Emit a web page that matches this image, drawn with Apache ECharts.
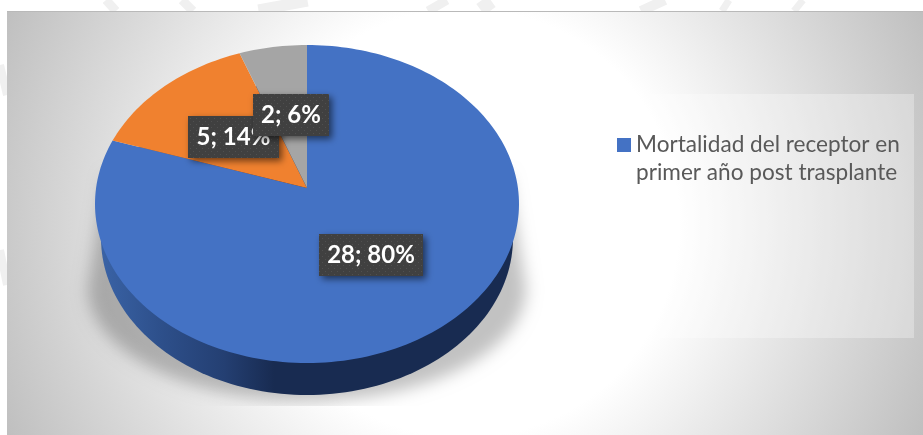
<!DOCTYPE html>
<html><head><meta charset="utf-8">
<style>html,body{margin:0;padding:0;background:#fff}#c{width:923px;height:435px}</style>
<script src="https://cdn.jsdelivr.net/npm/echarts@6/dist/echarts.min.js"></script>
</head><body><div id="c"></div>
<script>
var seriesName = 'Mortalidad del receptor en\nprimer año post trasplante';
var values = [28, 5, 2];
var colors = ['#4472c4', '#f0812f', '#a5a5a5'];
var labelCenters = [[371, 255], [233.5, 137], [291, 115]];
var labelSizes = [[104, 42], [91, 42], [76, 42]];

var top3d = {cx: 307, cy: 204, rx: 212, ry: 159, apexY: 188};
var base3d = {cx: 307, cy: 238, rx: 206, ry: 157};
var total = values.reduce(function (a, b) { return a + b; }, 0);

function rim(frac) {
  // ray from the off-centre apex at the slice's true angle, met with the rim
  var th = frac * Math.PI * 2;
  var ax = 0, ay = (top3d.cy - top3d.apexY) / top3d.ry;
  var dx = Math.sin(th), dy = Math.cos(th);
  var b = ax * dx + ay * dy;
  var t = -b + Math.sqrt(b * b + 1 - ay * ay);
  return [top3d.cx + (ax + t * dx) * top3d.rx, top3d.cy - (ay + t * dy) * top3d.ry];
}
function ellipsePts(e, n) {
  var p = [];
  for (var i = 0; i < n; i++) {
    var a = i / n * Math.PI * 2;
    p.push([e.cx + Math.cos(a) * e.rx, e.cy + Math.sin(a) * e.ry]);
  }
  return p;
}
var tex = document.createElement('canvas');
tex.width = 6; tex.height = 6;
(function () {
  var g = tex.getContext('2d');
  g.fillStyle = '#404040'; g.fillRect(0, 0, 6, 6);
  g.fillStyle = '#505050'; g.fillRect(1, 1, 1, 1); g.fillRect(4, 4, 1, 1);
})();

function renderItem(params, api) {
  var i = params.dataIndex, v = api.value(0), before = 0;
  for (var k = 0; k < i; k++) before += values[k];
  var from = before / total, to = (before + v) / total;
  var pts = [[top3d.cx, top3d.apexY]];
  var steps = Math.max(8, Math.round((to - from) * 240));
  for (var s = 0; s <= steps; s++) pts.push(rim(from + (to - from) * s / steps));
  var children = [];
  if (i === 0) {
    children.push({
      type: 'polygon', shape: {points: ellipsePts(base3d, 200)},
      style: {fill: {type: 'linear', x: 100, y: 0, x2: 515, y2: 0, global: true, colorStops: [
        {offset: 0, color: '#3a63a6'}, {offset: 0.15, color: '#2d4f8a'},
        {offset: 0.3, color: '#243f72'}, {offset: 0.42, color: '#182b51'}, {offset: 1, color: '#182b51'}]}}
    });
  }
  children.push({type: 'polygon', shape: {points: pts}, style: {fill: colors[i]}});
  return {type: 'group', children: children};
}
function renderLabel(params, api) {
  var i = params.dataIndex, v = api.value(0);
  var c = labelCenters[i], sz = labelSizes[i];
  return {type: 'group', children: [
    {type: 'rect', shape: {x: c[0] - sz[0] / 2, y: c[1] - sz[1] / 2, width: sz[0], height: sz[1]},
     style: {fill: {image: tex, repeat: 'repeat'}, shadowBlur: 7, shadowOffsetX: 3, shadowOffsetY: 3, shadowColor: 'rgba(0,0,0,0.55)'}},
    {type: 'text', x: c[0], y: c[1],
     style: {text: v + '; ' + Math.round(v / total * 100) + '%', fill: '#fff', align: 'center', verticalAlign: 'middle',
       font: 'bold 24px Lato'}}
  ]};
}
var bgFill = {type: 'radial', x: 465, y: 223, r: 510, global: true, colorStops: [
  {offset: 0, color: '#ffffff'}, {offset: 0.42, color: '#ffffff'}, {offset: 1, color: '#bebebe'}]};

var shadowPts = [[106, 176], [508, 176], [526, 288]];
(function () {
  for (var a = 0; a <= 60; a++) {
    var t = a / 60 * Math.PI;
    shadowPts.push([307 + Math.cos(t) * 219, 288 + Math.sin(t) * 113]);
  }
})();
var marks = [[[106, 0], [116, 11], 9], [[182, 0], [193, 11], 9], [[282, 0], [284, 11], 50],
  [[447, 0], [428, 11], 9], [[482, 0], [490, 11], 14], [[665, 0], [641, 11], 10], [[729, 0], [722, 11], 7], [[803, 0], [794, 11], 7],
  [[0, 65], [7, 95], 8], [[0, 250], [7, 285], 8]];
var wm = marks.map(function (m) {
  return {type: 'line', shape: {x1: m[0][0], y1: m[0][1], x2: m[1][0], y2: m[1][1]}, style: {stroke: '#f0f0f0', lineWidth: m[2]}};
});

var chart = echarts.init(document.getElementById('c'), null, {renderer: 'canvas'});
chart.setOption({
  animation: false,
  backgroundColor: '#fff',
  legend: {
    show: true, left: 617, top: 103, padding: 0, orient: 'vertical', selectedMode: false,
    itemWidth: 14, itemHeight: 14, itemGap: 0,
    data: [{name: seriesName, icon: 'rect'}],
    formatter: function (n) { return '\n' + n; },
    textStyle: {fontFamily: 'Lato', fontSize: 22.6, color: '#595959', lineHeight: 28}
  },
  graphic: wm.concat([
    {type: 'rect', z: 0, shape: {x: 7, y: 11, width: 916, height: 424}, style: {fill: bgFill}},
    {type: 'line', z: 0, shape: {x1: 7, y1: 11.5, x2: 923, y2: 11.5}, style: {stroke: '#b9b9b9', lineWidth: 1}},
    {type: 'rect', z: 0, shape: {x: 598, y: 94, width: 316, height: 244}, style: {fill: 'rgba(255,255,255,0.3)'}},
    {type: 'polygon', z: 0, x: -2000, shape: {points: shadowPts},
     style: {fill: '#000', shadowBlur: 16, shadowOffsetX: 2000, shadowColor: 'rgba(0,0,0,0.24)'}},
    {type: 'rect', z: 0, shape: {x: 7, y: 406, width: 916, height: 29}, style: {fill: bgFill}}
  ]),
  series: [
    {type: 'custom', name: seriesName, coordinateSystem: 'none', renderItem: renderItem, z: 2,
     itemStyle: {color: colors[0]}, data: values.map(function (v) { return [v]; })},
    {type: 'custom', name: 'labels', coordinateSystem: 'none', renderItem: renderLabel, z: 3,
     data: values.map(function (v) { return [v]; })}
  ]
});
</script></body></html>
